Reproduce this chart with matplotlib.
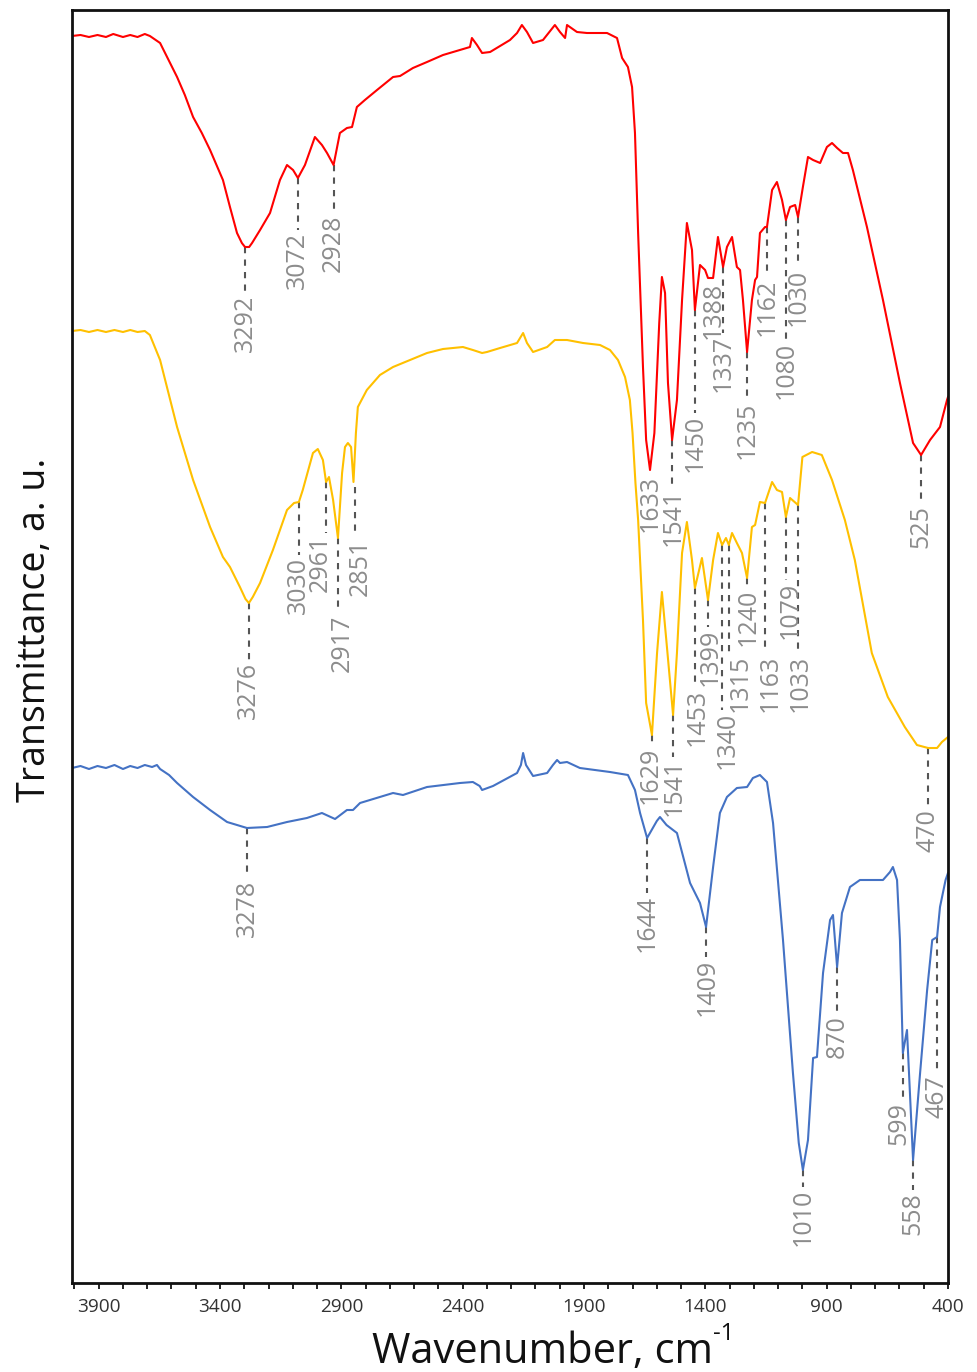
import matplotlib
matplotlib.use("Agg")
import matplotlib.pyplot as plt
from matplotlib.ticker import MultipleLocator

# ---------------- data (wavenumber, cm-1 ; transmittance, a.u.) ----------------
red_wn = [4010, 3975, 3940, 3905, 3870, 3840, 3800, 3770, 3740, 3710, 3689, 3665, 3647, 3610, 3577, 3545, 3511,
          3475, 3441, 3388, 3359, 3330, 3310, 3297, 3280, 3268, 3235, 3194, 3153, 3124, 3099, 3079, 3050, 3009, 2980,
          2959, 2932, 2906, 2877, 2856, 2836, 2803, 2753, 2687, 2658, 2605, 2547, 2481, 2411, 2370,
          2362, 2341, 2320, 2287, 2205, 2176, 2156, 2135, 2110, 2069, 2020, 1999, 1978, 1970, 1929,
          1888, 1805, 1764, 1743, 1719, 1702, 1690, 1677, 1657, 1644, 1628, 1610, 1590, 1579, 1566, 1554,
          1537, 1517, 1496, 1476, 1455, 1443, 1422, 1401, 1389, 1368, 1348, 1327, 1311, 1290, 1270,
          1257, 1245, 1228, 1208, 1195, 1187, 1175, 1154, 1146, 1125, 1105, 1084, 1068, 1051, 1030,
          1018, 998, 977, 956, 927, 899, 878, 857, 833, 812, 792, 734, 668, 598, 544, 511, 474, 433,
          404, 400]
red_t = [1247, 1248, 1246, 1248, 1246, 1249, 1246, 1248, 1246, 1249, 1247, 1243, 1240, 1222, 1206, 1188, 1166,
         1150, 1133, 1103, 1076, 1050, 1040, 1036, 1036, 1040, 1053, 1070, 1103, 1118, 1113, 1105, 1118, 1146, 1138,
         1130, 1118, 1150, 1155, 1156, 1176, 1183, 1193, 1206, 1207, 1215, 1221, 1228, 1233, 1236,
         1245, 1238, 1230, 1231, 1243, 1250, 1258, 1251, 1240, 1243, 1258, 1251, 1245, 1258, 1251,
         1250, 1250, 1245, 1225, 1216, 1196, 1150, 1050, 916, 843, 813, 850, 960, 1006, 990, 900,
         843, 883, 983, 1060, 1033, 973, 1018, 1013, 1005, 1005, 1046, 1016, 1036, 1046, 1016,
         1013, 983, 931, 983, 1003, 1006, 1050, 1056, 1056, 1093, 1101, 1083, 1063, 1076, 1078,
         1066, 1096, 1126, 1123, 1120, 1136, 1140, 1135, 1130, 1130, 1113, 1056, 983, 900, 840, 828, 843, 856,
         883, 886]

yel_wn = [4010, 3975, 3940, 3905, 3870, 3835, 3800, 3770, 3740, 3710, 3689, 3647, 3577, 3511, 3441,
          3388, 3359, 3318, 3295, 3281, 3265, 3235, 3182, 3124, 3095, 3075, 3059, 3017, 2997, 2976, 2963, 2951,
          2934, 2914, 2897, 2885, 2873, 2860, 2850, 2840, 2832, 2795, 2741, 2687, 2617, 2547, 2481,
          2399, 2358, 2320, 2300, 2246, 2176, 2151, 2135, 2110, 2052, 2020, 1970, 1904, 1834, 1793,
          1760, 1731, 1711, 1700, 1688, 1677, 1657, 1644, 1620, 1599, 1579, 1562, 1533, 1517, 1496,
          1476, 1455, 1443, 1414, 1389, 1368, 1348, 1331, 1315, 1303, 1290, 1270, 1249, 1228, 1208,
          1195, 1175, 1154, 1125, 1105, 1084, 1068, 1051, 1018, 1000, 960, 920, 878, 825, 784, 714,
          648, 578, 528, 482, 445, 425, 400]
yel_t = [952, 953, 951, 953, 951, 953, 951, 953, 951, 952, 948, 923, 856, 803, 756,
         726, 716, 696, 684, 680, 686, 700, 733, 773, 780, 781, 793, 830, 834, 823, 801, 806,
         783, 745, 810, 836, 840, 836, 801, 850, 876, 893, 908, 916, 923, 930, 934,
         936, 933, 930, 931, 935, 940, 950, 940, 931, 936, 943, 943, 940, 938, 933,
         923, 906, 883, 850, 800, 763, 663, 580, 548, 630, 691, 646, 568, 630, 730,
         761, 723, 695, 725, 683, 723, 750, 738, 745, 738, 750, 740, 730, 705, 756,
         758, 781, 780, 801, 793, 791, 766, 785, 778, 826, 831, 828, 803, 763, 723, 630,
         586, 556, 538, 535, 535, 541, 546]

blu_wn = [4010, 3975, 3940, 3905, 3870, 3835, 3800, 3770, 3740, 3710, 3680, 3660, 3647, 3610, 3577,
          3511, 3441, 3371, 3289, 3206, 3124, 3042, 2980, 2926, 2877, 2852, 2823, 2687, 2646, 2547,
          2411, 2358, 2330, 2320, 2275, 2176, 2160, 2151, 2139, 2110, 2052, 2028, 2011, 1999, 1970,
          1917, 1793, 1719, 1690, 1669, 1640, 1600, 1587, 1560, 1517, 1463, 1422, 1397, 1368, 1340, 1311,
          1270, 1228, 1204, 1175, 1146, 1121, 1080, 1039, 1015, 998, 977, 956, 940, 915, 886,
          874, 857, 837, 804, 763, 668, 639, 627, 610, 598, 586, 569, 544, 515, 486,
          465, 445, 433, 410, 400]
blu_t = [515, 517, 514, 517, 515, 518, 514, 517, 515, 518, 516, 518, 514, 508, 500,
         486, 473, 461, 455, 456, 461, 465, 470, 464, 473, 473, 480, 490, 488, 496,
         500, 501, 497, 493, 497, 510, 518, 530, 518, 507, 510, 518, 523, 520, 521,
         515, 511, 508, 493, 470, 445, 462, 466, 458, 450, 400, 380, 356, 416, 470, 486,
         495, 496, 505, 508, 501, 460, 343, 210, 140, 113, 143, 225, 226, 310, 363,
         368, 316, 370, 396, 403, 403, 411, 416, 403, 343, 230, 253, 123, 210, 293,
         343, 346, 376, 403, 410]

# peak annotations: label text, marked wavenumber, curve value, where the label starts, label centre
red_labels = ["3292", "3072", "2928", "1633", "1541", "1450", "1388", "1337", "1235", "1162", "1080", "1030", "525"]
red_mark_wn = [3297, 3079, 2932, 1628, 1537, 1443, 1368, 1327, 1228, 1146, 1068, 1018, 511]
red_mark_t = [1036, 1105, 1118, 813, 843, 973, 1005, 1016, 931, 1056, 1063, 1066, 828]
red_text_t = [990, 1053, 1070, 810, 796, 870, 1003, 950, 883, 1006, 943, 1016, 780]
red_text_wn = [3297, 3083, 2932, 1628, 1533, 1443, 1368, 1327, 1228, 1146, 1068, 1018, 511]

yel_labels = ["3276", "3030", "2961", "2917", "2851", "1629", "1541", "1453", "1399", "1340", "1315",
              "1240", "1163", "1079", "1033", "470"]
yel_mark_wn = [3281, 3075, 2963, 2914, 2845, 1620, 1533, 1443, 1389, 1331, 1303, 1228, 1154, 1068, 1018, 482]
yel_mark_t = [680, 781, 801, 745, 796, 548, 568, 695, 683, 738, 738, 705, 780, 766, 778, 535]
yel_text_t = [623, 728, 750, 670, 746, 538, 526, 596, 656, 573, 630, 696, 630, 703, 630, 476]
yel_text_wn = [3281, 3075, 2988, 2897, 2823, 1626, 1527, 1435, 1381, 1311, 1258, 1224, 1133, 1051, 1010, 482]

blu_labels = ["3278", "1644", "1409", "1010", "870", "599", "558", "467"]
blu_mark_wn = [3289, 1640, 1397, 998, 857, 586, 544, 445]
blu_mark_t = [455, 445, 356, 113, 316, 230, 123, 346]
blu_text_t = [405, 390, 326, 96, 270, 183, 93, 210]
blu_text_wn = [3289, 1640, 1393, 998, 857, 602, 544, 445]

x_ticks = [3900, 3400, 2900, 2400, 1900, 1400, 900, 400]

# ---------------- figure ----------------
W, H = 977, 1372
fig = plt.figure(figsize=(W / 100, H / 100), dpi=100)
ax = fig.add_axes([72 / W, 1 - 1283 / H, 876 / W, 1273 / H])

series = [
    (red_wn, red_t, "#ff0000", red_labels, red_mark_wn, red_mark_t, red_text_t, red_text_wn),
    (yel_wn, yel_t, "#ffc000", yel_labels, yel_mark_wn, yel_mark_t, yel_text_t, yel_text_wn),
    (blu_wn, blu_t, "#4472c4", blu_labels, blu_mark_wn, blu_mark_t, blu_text_t, blu_text_wn),
]

for wn, t, col, labs, mwn, mt, tt, twn in series:
    for lab, x, y0, y1, xt in zip(labs, mwn, mt, tt, twn):
        if y0 - y1 > 6:
            ax.plot([x, x], [y0, y1], color="#555555", lw=1.5, dashes=(3, 3), zorder=1)
        ax.text(xt, y1 - 2, lab, rotation=90, ha="center", va="top", color="#8c8c8c",
                fontsize=18, family=["Open Sans", "DejaVu Sans"], zorder=3)
    ax.plot(wn, t, color=col, lw=1.5, zorder=2, solid_joinstyle="round")

ax.set_xlim(4010, 400)
ax.set_ylim(0, 1273)
ax.set_xticks(x_ticks)
ax.xaxis.set_minor_locator(MultipleLocator(100))
ax.set_yticks([])
ax.tick_params(axis="x", which="both", direction="out", length=4, width=1.4, color="#222222",
               pad=7, labelsize=13.7, labelcolor="#333333")
for lab in ax.get_xticklabels():
    lab.set_family(["Open Sans", "DejaVu Sans"])
for sp in ax.spines.values():
    sp.set_linewidth(2.0)
    sp.set_color("#111111")

fig.text(542 / W, 1 - 1352 / H, "Wavenumber, cm", ha="center", va="center",
         fontsize=30, color="#111111", family=["Open Sans", "DejaVu Sans"])
fig.text(713 / W, 1 - 1334 / H, "-1", ha="left", va="center",
         fontsize=17, color="#111111", family=["Open Sans", "DejaVu Sans"])
fig.text(35 / W, 1 - 630 / H, "Transmittance, a. u.", ha="center", va="center", rotation=90,
         fontsize=27, color="#111111", family=["Open Sans", "DejaVu Sans"])

fig.savefig("out.png", dpi=100)
